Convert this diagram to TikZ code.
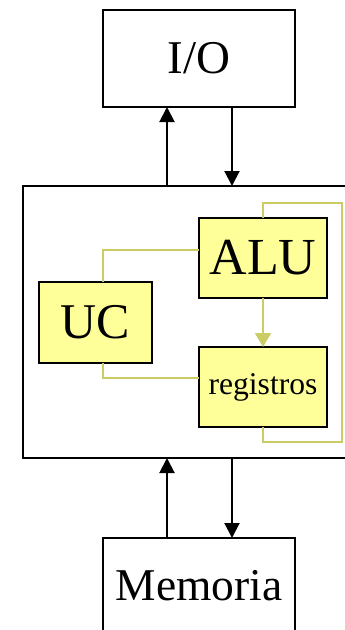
\documentclass[tikz,border=0pt]{standalone}
\usepackage{fontspec}
\setmainfont{Liberation Serif}
\usetikzlibrary{arrows.meta}

\definecolor{regfill}{RGB}{255,255,153}
\definecolor{regline}{RGB}{204,204,102}

\begin{document}
\begin{tikzpicture}[
        x=1pt, y=-1pt,
        block/.style={rectangle, draw=black, line width=2pt, inner sep=0pt, outer sep=0pt},
        unit/.style={block, fill=regfill, minimum width=128pt, minimum height=80pt},
        arrow/.style={-{Triangle[width=15pt,length=15pt]}, line width=2pt},
        link/.style={draw=regline, line width=2pt},
        linkarrow/.style={link, -{Triangle[width=16pt,length=14pt]}}
    ]

    \useasboundingbox (0,0) rectangle (345,630);
    \clip (0,0) rectangle (345,630);

    % Outer boxes
    \node[block, minimum width=192pt, minimum height=97pt, font=\fontsize{47pt}{47pt}\selectfont] (io) at (199,58.5) {I/O};
    \node[block, minimum width=327pt, minimum height=272pt] (cpu) at (186.5,322) {};
    \node[block, minimum width=192pt, minimum height=96pt, font=\fontsize{45.5pt}{45.5pt}\selectfont] (mem) at (199,586) {Memoria};

    % CPU parts
    \node[unit, font=\fontsize{52pt}{52pt}\selectfont] (alu) at (263,258) {ALU};
    \node[unit, minimum width=113pt, minimum height=81pt, font=\fontsize{50pt}{50pt}\selectfont] (uc) at (95.5,322.5) {UC};
    \node[unit, font=\fontsize{31.6pt}{31.6pt}\selectfont] (reg) at (263,387) {registros};

    % Bus lanes
    \coordinate (up) at (167,0);
    \coordinate (down) at (232,0);
    \coordinate (loopNE) at (342,203);
    \coordinate (loopSE) at (342,442);

    % Transfers
    \draw[arrow] (cpu.north -| up) -- (io.south -| up);
    \draw[arrow] (io.south -| down) -- (cpu.north -| down);
    \draw[arrow] (mem.north -| up) -- (cpu.south -| up);
    \draw[arrow] (cpu.south -| down) -- (mem.north -| down);

    % Internal links
    \draw[link] ([xshift=7.5pt]uc.north) |- ([yshift=8pt]alu.west);
    \draw[link] ([xshift=7.5pt]uc.south) |- ([yshift=9pt]reg.west);
    \draw[linkarrow] (alu.south) -- (reg.north);
    \draw[link] (alu.north) |- (loopNE) -- (loopSE) -| (reg.south);

\end{tikzpicture}
\end{document}
